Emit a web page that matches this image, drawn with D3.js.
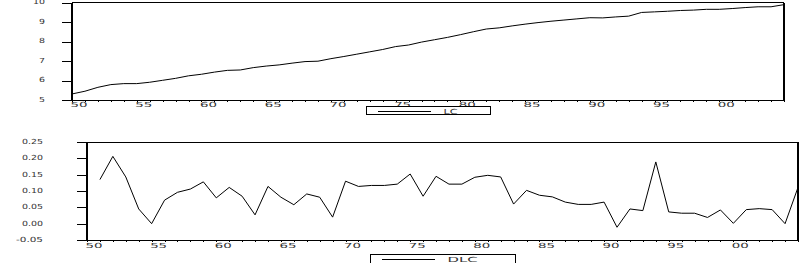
<!DOCTYPE html>
<html>
<head>
<meta charset="utf-8">
<script src="https://cdn.jsdelivr.net/npm/d3@7.9.0/dist/d3.min.js"></script>
<style>
  body { margin: 0; background: #fff; }
  svg { display: block; }
  text { font-family: "DejaVu Sans", sans-serif; font-size: 7px; fill: #333; }
</style>
</head>
<body>
<svg id="chart" width="800" height="263"></svg>
<script>
const years = [1950, 1951, 1952, 1953, 1954, 1955, 1956, 1957, 1958, 1959,
  1960, 1961, 1962, 1963, 1964, 1965, 1966, 1967, 1968, 1969,
  1970, 1971, 1972, 1973, 1974, 1975, 1976, 1977, 1978, 1979,
  1980, 1981, 1982, 1983, 1984, 1985, 1986, 1987, 1988, 1989,
  1990, 1991, 1992, 1993, 1994, 1995, 1996, 1997, 1998, 1999,
  2000, 2001, 2002, 2003, 2004, 2005];

// LC, 1950-2005
const lc = [5.31, 5.45, 5.65, 5.79, 5.84, 5.84, 5.91, 6.01, 6.11, 6.24,
  6.32, 6.43, 6.52, 6.54, 6.66, 6.74, 6.80, 6.89, 6.97, 6.99,
  7.12, 7.23, 7.35, 7.47, 7.59, 7.74, 7.82, 7.97, 8.09, 8.21,
  8.35, 8.50, 8.64, 8.70, 8.80, 8.89, 8.97, 9.04, 9.10, 9.16,
  9.22, 9.21, 9.26, 9.30, 9.49, 9.52, 9.55, 9.59, 9.61, 9.65,
  9.65, 9.69, 9.74, 9.78, 9.78, 9.89];

// DLC, 1951-2005 (first year is lost to differencing)
const dlc = [null, 0.135, 0.206, 0.143, 0.045, 0.000, 0.072, 0.096, 0.106, 0.128,
  0.079, 0.111, 0.084, 0.027, 0.114, 0.081, 0.058, 0.091, 0.081, 0.020,
  0.130, 0.114, 0.117, 0.117, 0.121, 0.152, 0.084, 0.145, 0.121, 0.121,
  0.142, 0.148, 0.143, 0.060, 0.102, 0.087, 0.082, 0.066, 0.059, 0.059,
  0.066, -0.011, 0.045, 0.040, 0.189, 0.036, 0.032, 0.032, 0.019, 0.042,
  0.001, 0.043, 0.046, 0.043, 0.000, 0.111];

const xLabelYears = [1950, 1955, 1960, 1965, 1970, 1975, 1980, 1985, 1990, 1995, 2000];
const xLabels = ["50", "55", "60", "65", "70", "75", "80", "85", "90", "95", "00"];

const lcTicks = [5, 6, 7, 8, 9, 10];
const lcTickLabels = ["5", "6", "7", "8", "9", "10"];
const dlcTicks = [-0.05, 0, 0.05, 0.1, 0.15, 0.2, 0.25];
const dlcTickLabels = ["-0.05", "0.00", "0.05", "0.10", "0.15", "0.20", "0.25"];

const svg = d3.select("#chart");

function drawPanel(opts) {
  const { left, right, top, bottom, series, yTicks, yLabels, yDomain,
    labelRight, xLabelBase, legend } = opts;
  const g = svg.append("g");

  const x = d3.scaleLinear().domain([years[0], years[years.length - 1]]).range([left, right]);
  const y = d3.scaleLinear().domain(yDomain).range([bottom, top]);

  // frame: thin top/bottom, thick left and right
  g.append("line").attr("x1", left).attr("x2", right).attr("y1", top).attr("y2", top)
    .attr("stroke", "#000").attr("stroke-width", 1).attr("shape-rendering", "crispEdges");
  g.append("line").attr("x1", left).attr("x2", right).attr("y1", bottom).attr("y2", bottom)
    .attr("stroke", "#000").attr("stroke-width", 1).attr("shape-rendering", "crispEdges");
  g.append("line").attr("x1", left).attr("x2", left).attr("y1", top).attr("y2", bottom + 1)
    .attr("stroke", "#000").attr("stroke-width", 2.5).attr("shape-rendering", "crispEdges");
  g.append("line").attr("x1", right).attr("x2", right).attr("y1", top).attr("y2", bottom)
    .attr("stroke", "#000").attr("stroke-width", 2).attr("shape-rendering", "crispEdges");

  // y axis
  const yAxis = g.append("g")
    .attr("transform", `translate(${left},0)`)
    .call(d3.axisLeft(y).tickValues(yTicks).tickSize(10).tickPadding(0)
      .tickFormat((d, i) => yLabels[i]));
  yAxis.select(".domain").remove();
  yAxis.selectAll("line").attr("shape-rendering", "crispEdges");
  yAxis.selectAll("text")
    .attr("x", labelRight - left)
    .attr("dy", "0.2em")
    .attr("fill", "#333")
    .attr("textLength", (d, i) => yLabels[i].replace(".", "").length * 6 + (yLabels[i].includes(".") ? 3 : 0))
    .attr("lengthAdjust", "spacingAndGlyphs");

  // x axis: a tick every year, labels every five
  const xAxis = g.append("g")
    .attr("transform", `translate(0,${bottom})`)
    .call(d3.axisBottom(x).tickValues(years).tickSize(2)
      .tickFormat(d => {
        const k = xLabelYears.indexOf(d);
        return k >= 0 ? xLabels[k] : "";
      }));
  xAxis.select(".domain").remove();
  xAxis.selectAll("line").attr("shape-rendering", "crispEdges");
  xAxis.selectAll("text")
    .attr("text-anchor", "start")
    .attr("x", -2)
    .attr("y", xLabelBase)
    .attr("dy", 0)
    .attr("fill", "#333")
    .filter(d => xLabelYears.includes(d))
    .attr("textLength", 17)
    .attr("lengthAdjust", "spacingAndGlyphs");

  // series line
  const line = d3.line()
    .defined(d => d[1] !== null)
    .x(d => x(d[0]))
    .y(d => y(d[1]));
  g.append("path")
    .datum(years.map((yr, i) => [yr, series[i]]))
    .attr("d", line)
    .attr("fill", "none")
    .attr("stroke", "#000")
    .attr("stroke-width", 1);

  // legend
  const lg = g.append("g");
  lg.append("rect")
    .attr("x", legend.x).attr("y", legend.y)
    .attr("width", legend.w).attr("height", legend.h)
    .attr("fill", "#fff").attr("stroke", "#000").attr("stroke-width", 1)
    .attr("shape-rendering", "crispEdges");
  lg.append("line")
    .attr("x1", legend.x + 11).attr("x2", legend.x + 64)
    .attr("y1", legend.y + 4.5).attr("y2", legend.y + 4.5)
    .attr("stroke", "#000").attr("stroke-width", 1).attr("shape-rendering", "crispEdges");
  lg.append("text")
    .attr("x", legend.x + 77).attr("y", legend.y + 7)
    .attr("textLength", legend.textW).attr("lengthAdjust", "spacingAndGlyphs")
    .text(legend.label);
}

drawPanel({
  left: 72, right: 784, top: 2.5, bottom: 100,
  series: lc, yTicks: lcTicks, yLabels: lcTickLabels, yDomain: [5, 10],
  labelRight: 45, xLabelBase: 7,
  legend: { x: 366.5, y: 106.5, w: 124, h: 8, label: "LC", textW: 14 }
});

drawPanel({
  left: 87, right: 798, top: 142, bottom: 240,
  series: dlc, yTicks: dlcTicks, yLabels: dlcTickLabels, yDomain: [-0.05, 0.25],
  labelRight: 43, xLabelBase: 8,
  legend: { x: 370.5, y: 254.5, w: 145, h: 9, label: "DLC", textW: 30 }
});
</script>
</body>
</html>
